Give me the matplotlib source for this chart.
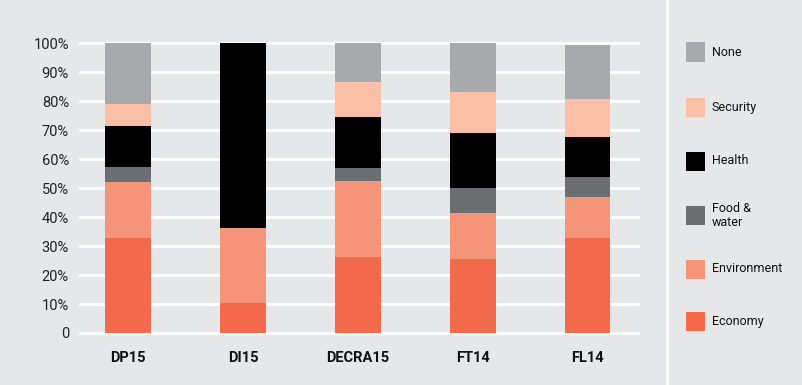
import matplotlib.pyplot as plt
from matplotlib.patches import Rectangle
from matplotlib.lines import Line2D

plt.rcParams['font.family'] = ['Roboto', 'DejaVu Sans']

schemes = ["DP15", "DI15", "DECRA15", "FT14", "FL14"]
categories = ["Economy", "Environment", "Food &\nwater", "Health", "Security", "None"]
colors = ["#f2694b", "#f59478", "#6d6e71", "#000000", "#fbbfa8", "#a7a9ac"]

economy = [32.9, 10.4, 26.3, 25.4, 32.9]
environment = [19.3, 25.8, 26.3, 16.0, 14.2]
food_water = [5.1, 0, 4.4, 8.5, 6.7]
health = [14.2, 63.8, 17.7, 19.2, 14.0]
security = [7.6, 0, 11.9, 14.2, 13.1]
none = [20.9, 0, 13.4, 16.7, 18.5]
series = [economy, environment, food_water, health, security, none]

bg = "#e6e7e8"
fig = plt.figure(figsize=(8.03, 3.85), dpi=100, facecolor=bg)
ax = fig.add_axes([80 / 803, 1 - 333 / 385, (638 - 80) / 803, (333 - 43.3) / 385])
ax.set_facecolor(bg)

x = range(len(schemes))
bottom = [0] * len(schemes)
for vals, col in zip(series, colors):
    ax.bar(x, vals, bottom=bottom, width=0.4, color=col, zorder=3)
    bottom = [b + v for b, v in zip(bottom, vals)]

ax.set_xlim(-0.42, 4.44)
ax.set_ylim(0, 100)
ax.set_yticks(range(0, 101, 10))
ax.set_yticklabels(["0"] + [str(v) + "%" for v in range(10, 101, 10)], fontsize=10.5, color="#222222")
ax.set_xticks(list(x))
ax.set_xticklabels(schemes, fontsize=10.5, fontweight="bold", color="#111111")
ax.tick_params(length=0)
ax.tick_params(axis="y", pad=8)
ax.tick_params(axis="x", pad=13)
ax.grid(axis="y", color="white", linewidth=2, zorder=0)
for gl in ax.get_ygridlines():
    gl.set_clip_on(False)
for s in ax.spines.values():
    s.set_visible(False)

# separator line
fig.add_artist(Line2D([667 / 803, 667 / 803], [0, 1], color="white", linewidth=2))

# legend
ys = [321, 269, 215, 161, 107, 52]
for cat, col, yc in zip(categories, colors, ys):
    fig.add_artist(Rectangle((686 / 803, 1 - (yc + 9.5) / 385), 19 / 803, 19 / 385,
                             facecolor=col, edgecolor="none"))
    fig.text(712 / 803, 1 - yc / 385, cat, fontsize=9, va="center", ha="left",
             color="#111111", linespacing=1.1)

plt.savefig("out.png", dpi=100, facecolor=bg)
